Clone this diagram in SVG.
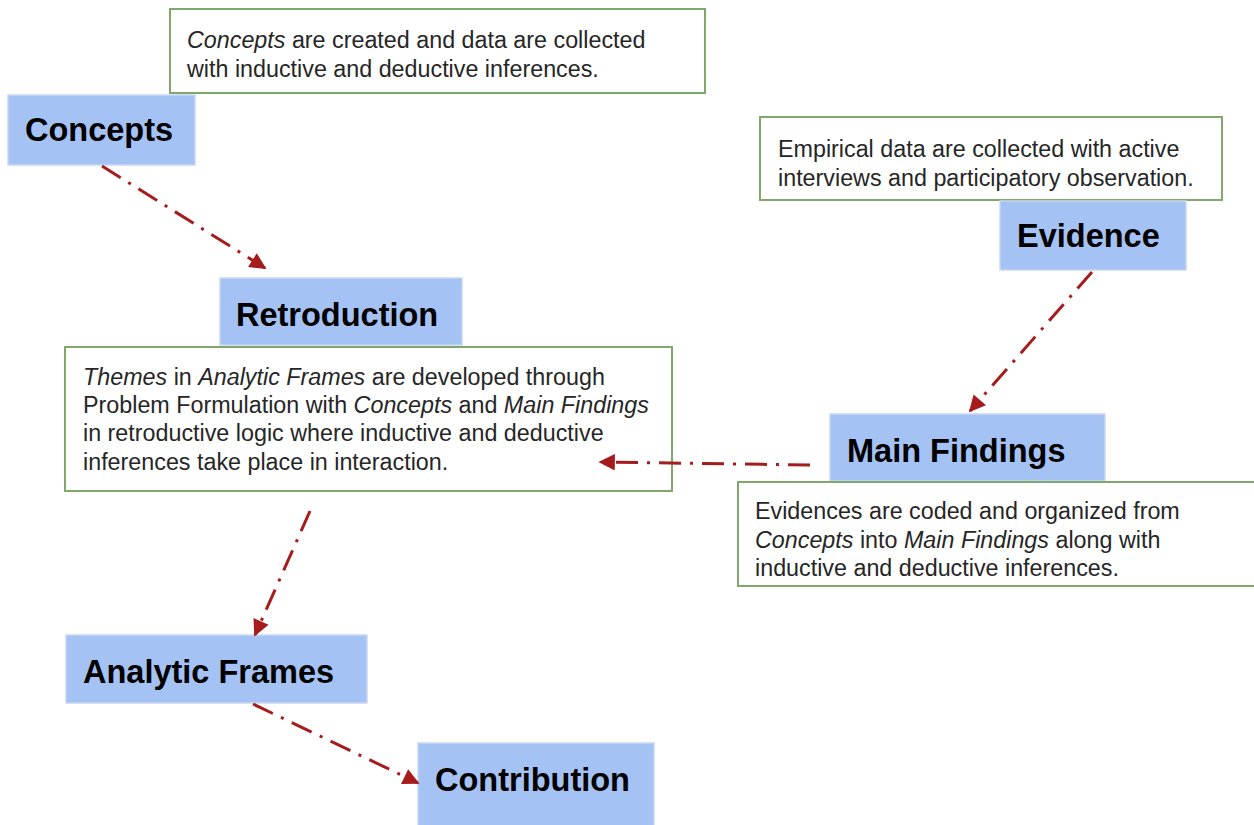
<svg xmlns="http://www.w3.org/2000/svg" width="1254" height="825" viewBox="0 0 1254 825">
<style>
.box{fill:#a4c2f4;stroke:#c9d8f0;stroke-width:1.5}
.note{fill:#ffffff;stroke:#7fa86a;stroke-width:2}
.h{font-family:"Liberation Sans",Arial,sans-serif;font-weight:bold;font-size:32.5px;fill:#000}
.t{font-family:"Liberation Sans",Arial,sans-serif;font-size:23.3px;fill:#262626}
.i{font-style:italic}
.c{fill:none;stroke:#a61c1c;stroke-width:3;stroke-dasharray:22 9 3 9}
</style>
<defs>
<marker id="ah" viewBox="0 0 10 10" refX="9" refY="5" markerWidth="7" markerHeight="5.5" orient="auto" markerUnits="strokeWidth">
<path d="M0,0 L10,5 L0,10 z" fill="#a61c1c"/>
</marker>
</defs>
<rect width="1254" height="825" fill="#fff"/>

<g id="note-concepts">
<rect class="note" x="170" y="9" width="535" height="84"/>
<text class="t" x="187" y="48"><tspan class="i">Concepts</tspan> are created and data are collected</text>
<text class="t" x="187" y="77">with inductive and deductive inferences.</text>
</g>
<g id="concepts">
<rect class="box" x="8" y="95" width="187" height="70"/>
<text class="h" x="25" y="141">Concepts</text>
</g>

<g id="note-evidence">
<rect class="note" x="760" y="117" width="462" height="83"/>
<text class="t" x="778" y="157">Empirical data are collected with active</text>
<text class="t" x="778" y="186">interviews and participatory observation.</text>
</g>
<g id="evidence">
<rect class="box" x="1000" y="201" width="186" height="69"/>
<text class="h" x="1017" y="247">Evidence</text>
</g>

<g id="retroduction">
<rect class="box" x="220" y="278" width="242" height="67"/>
<text class="h" x="236" y="326">Retroduction</text>
</g>
<g id="note-retroduction">
<rect class="note" x="65" y="347" width="607" height="144"/>
<text class="t" x="83" y="385"><tspan class="i">Themes</tspan> in <tspan class="i">Analytic Frames</tspan> are developed through</text>
<text class="t" x="83" y="413">Problem Formulation with <tspan class="i">Concepts</tspan> and <tspan class="i">Main Findings</tspan></text>
<text class="t" x="83" y="441">in retroductive logic where inductive and deductive</text>
<text class="t" x="83" y="470">inferences take place in interaction.</text>
</g>

<g id="main-findings">
<rect class="box" x="830" y="414" width="275" height="67"/>
<text class="h" x="847" y="462">Main Findings</text>
</g>
<g id="note-main-findings">
<rect class="note" x="738" y="482" width="520" height="104"/>
<text class="t" x="755" y="519">Evidences are coded and organized from</text>
<text class="t" x="755" y="548"><tspan class="i">Concepts</tspan> into <tspan class="i">Main Findings</tspan> along with</text>
<text class="t" x="755" y="576">inductive and deductive inferences.</text>
</g>

<g id="analytic-frames">
<rect class="box" x="66" y="635" width="301" height="68"/>
<text class="h" x="83" y="683">Analytic Frames</text>
</g>
<g id="contribution">
<rect class="box" x="418" y="743" width="236" height="84"/>
<text class="h" x="435" y="791">Contribution</text>
</g>

<g id="connectors">
<line class="c" x1="102" y1="166" x2="265" y2="268" marker-end="url(#ah)"/>
<line class="c" x1="1092" y1="272" x2="970" y2="411" marker-end="url(#ah)"/>
<line class="c" x1="810" y1="465" x2="600" y2="462" marker-end="url(#ah)"/>
<line class="c" x1="310" y1="511" x2="255" y2="635" marker-end="url(#ah)"/>
<line class="c" x1="253" y1="704" x2="418" y2="783" marker-end="url(#ah)"/>
</g>
</svg>
